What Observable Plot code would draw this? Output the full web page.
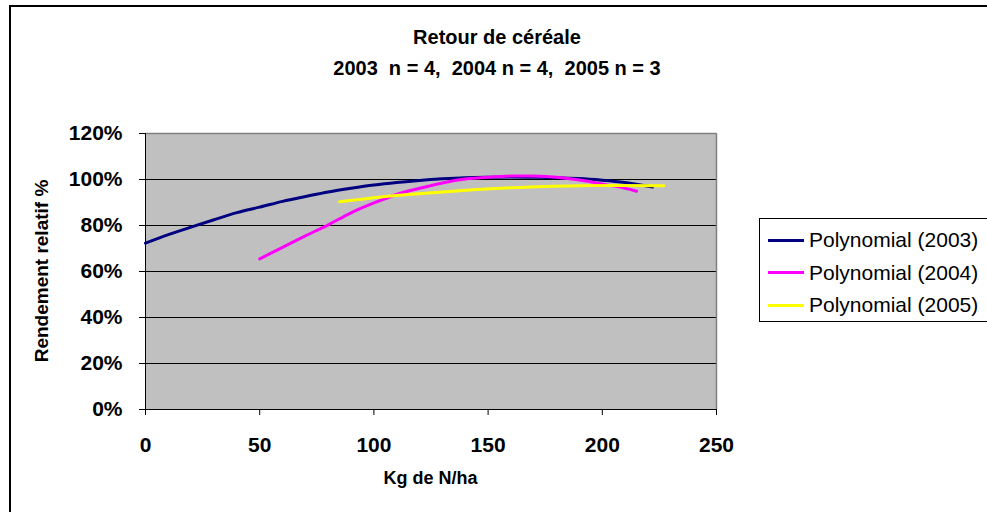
<!DOCTYPE html>
<html>
<head>
<meta charset="utf-8">
<script src="https://cdn.jsdelivr.net/npm/d3@7"></script>
<script src="https://cdn.jsdelivr.net/npm/@observablehq/plot@0.6"></script>
<style>
  html, body { margin: 0; padding: 0; background: #fff; overflow: hidden; }
  #wrap { position: relative; width: 987px; height: 512px; overflow: hidden; font-family: "Liberation Sans", Arial, sans-serif; }
  #frame { position: absolute; left: 9px; top: 5px; width: 1000px; height: 540px; border: 2px solid #000; box-sizing: border-box; pointer-events: none; }
  #chart { position: absolute; left: 0; top: 0; }
  .t { position: absolute; font-weight: bold; color: #000; white-space: pre; }
  #title1 { left: 0; width: 994px; text-align: center; top: 26px; font-size: 20px; }
  #title2 { left: 0; width: 994px; text-align: center; top: 57px; font-size: 20px; }
  #xtitle { left: 145px; width: 571px; text-align: center; top: 468px; font-size: 18px; }
  #ytitle { left: 42px; top: 271px; font-size: 19px; transform: translate(-50%, -50%) rotate(-90deg); }
  #legend { position: absolute; left: 759px; top: 218px; width: 260px; height: 104px; border: 1px solid #000; background: #fff; box-sizing: border-box; }
  .li { position: absolute; left: 8px; height: 30px; display: flex; align-items: center; font-size: 21px; white-space: pre; }
  .li span.sw { display: inline-block; width: 36px; height: 3px; margin-right: 5px; }
</style>
</head>
<body>
<div id="wrap">
  <div id="chart"></div>
  <div id="frame"></div>
  <div class="t" id="title1">Retour de céréale</div>
  <div class="t" id="title2">2003  n = 4,  2004 n = 4,  2005 n = 3</div>
  <div class="t" id="xtitle">Kg de N/ha</div>
  <div class="t" id="ytitle">Rendement relatif %</div>
  <div id="legend"></div>
</div>
<script>
// ---- data ----
const seriesNames = ["Polynomial (2003)", "Polynomial (2004)", "Polynomial (2005)"];
const seriesColors = ["#000080", "#FF00FF", "#FFFF00"];

const x2003 = [0, 10, 20, 30, 40, 50, 60, 70, 80, 90, 100, 110, 120, 130, 140, 150, 160, 170, 180, 190, 200, 210, 222];
const y2003 = [72.3, 76, 79.3, 82.5, 85.6, 88, 90.5, 92.6, 94.6, 96.2, 97.6, 98.7, 99.6, 100.3, 100.8, 101.0, 101.1, 101.0, 100.8, 100.4, 99.7, 98.7, 96.7];

const x2004 = [50, 60, 70, 80, 90, 100, 110, 120, 130, 140, 150, 160, 170, 180, 190, 200, 210, 215];
const y2004 = [65.5, 70.5, 75.5, 80.3, 85.5, 89.8, 93.5, 96.2, 98.5, 100.2, 101.0, 101.5, 101.5, 101.0, 99.8, 98.1, 96.2, 94.9];

const x2005 = [85, 100, 115, 130, 145, 160, 175, 190, 205, 227];
const y2005 = [90.3, 92.1, 93.5, 94.6, 95.6, 96.4, 97.0, 97.3, 97.4, 97.3];

const xTicks = [0, 50, 100, 150, 200, 250];
const yTicks = [0, 20, 40, 60, 80, 100, 120];

// ---- build tables ----
const toRows = (xs, ys) => xs.map((x, i) => ({x, y: ys[i]}));
const d2003 = toRows(x2003, y2003);
const d2004 = toRows(x2004, y2004);
const d2005 = toRows(x2005, y2005);

const chart = Plot.plot({
  width: 987,
  height: 512,
  marginLeft: 145,
  marginRight: 271,
  marginTop: 133,
  marginBottom: 103,
  style: { fontFamily: "'Liberation Sans', Arial, sans-serif", background: "transparent", color: "#000" },
  x: { domain: [0, 250] },
  y: { domain: [0, 120] },
  marks: [
    Plot.frame({ fill: "#C0C0C0", stroke: null }),
    Plot.gridY([20, 40, 60, 80, 100], { stroke: "#000", strokeOpacity: 1, strokeWidth: 1 }),
    Plot.ruleY([120], { stroke: "#808080", strokeWidth: 1.5 }),
    Plot.ruleX([250], { stroke: "#808080", strokeWidth: 1.5 }),
    Plot.axisX(xTicks, { tickSize: 6, tickPadding: 22, fontSize: 21, fontWeight: "bold", label: null, stroke: "#000" }),
    Plot.axisY(yTicks, { tickSize: 6, tickPadding: 17, fontSize: 21, fontWeight: "bold", label: null, tickFormat: d => d + "%", stroke: "#000" }),
    Plot.ruleX([0], { stroke: "#000", strokeWidth: 1 }),
    Plot.ruleY([0], { stroke: "#000", strokeWidth: 1 }),
    Plot.line(d2003, { x: "x", y: "y", stroke: seriesColors[0], strokeWidth: 3, curve: "natural" }),
    Plot.line(d2004, { x: "x", y: "y", stroke: seriesColors[1], strokeWidth: 3, curve: "natural" }),
    Plot.line(d2005, { x: "x", y: "y", stroke: seriesColors[2], strokeWidth: 3, curve: "natural" })
  ]
});
document.getElementById("chart").appendChild(chart);

// legend
const legend = document.getElementById("legend");
seriesNames.forEach((name, i) => {
  const row = document.createElement("div");
  row.className = "li";
  row.style.top = (6 + i * 32.6) + "px";
  const sw = document.createElement("span");
  sw.className = "sw";
  sw.style.background = seriesColors[i];
  row.appendChild(sw);
  row.appendChild(document.createTextNode(name));
  legend.appendChild(row);
});
</script>
</body>
</html>
